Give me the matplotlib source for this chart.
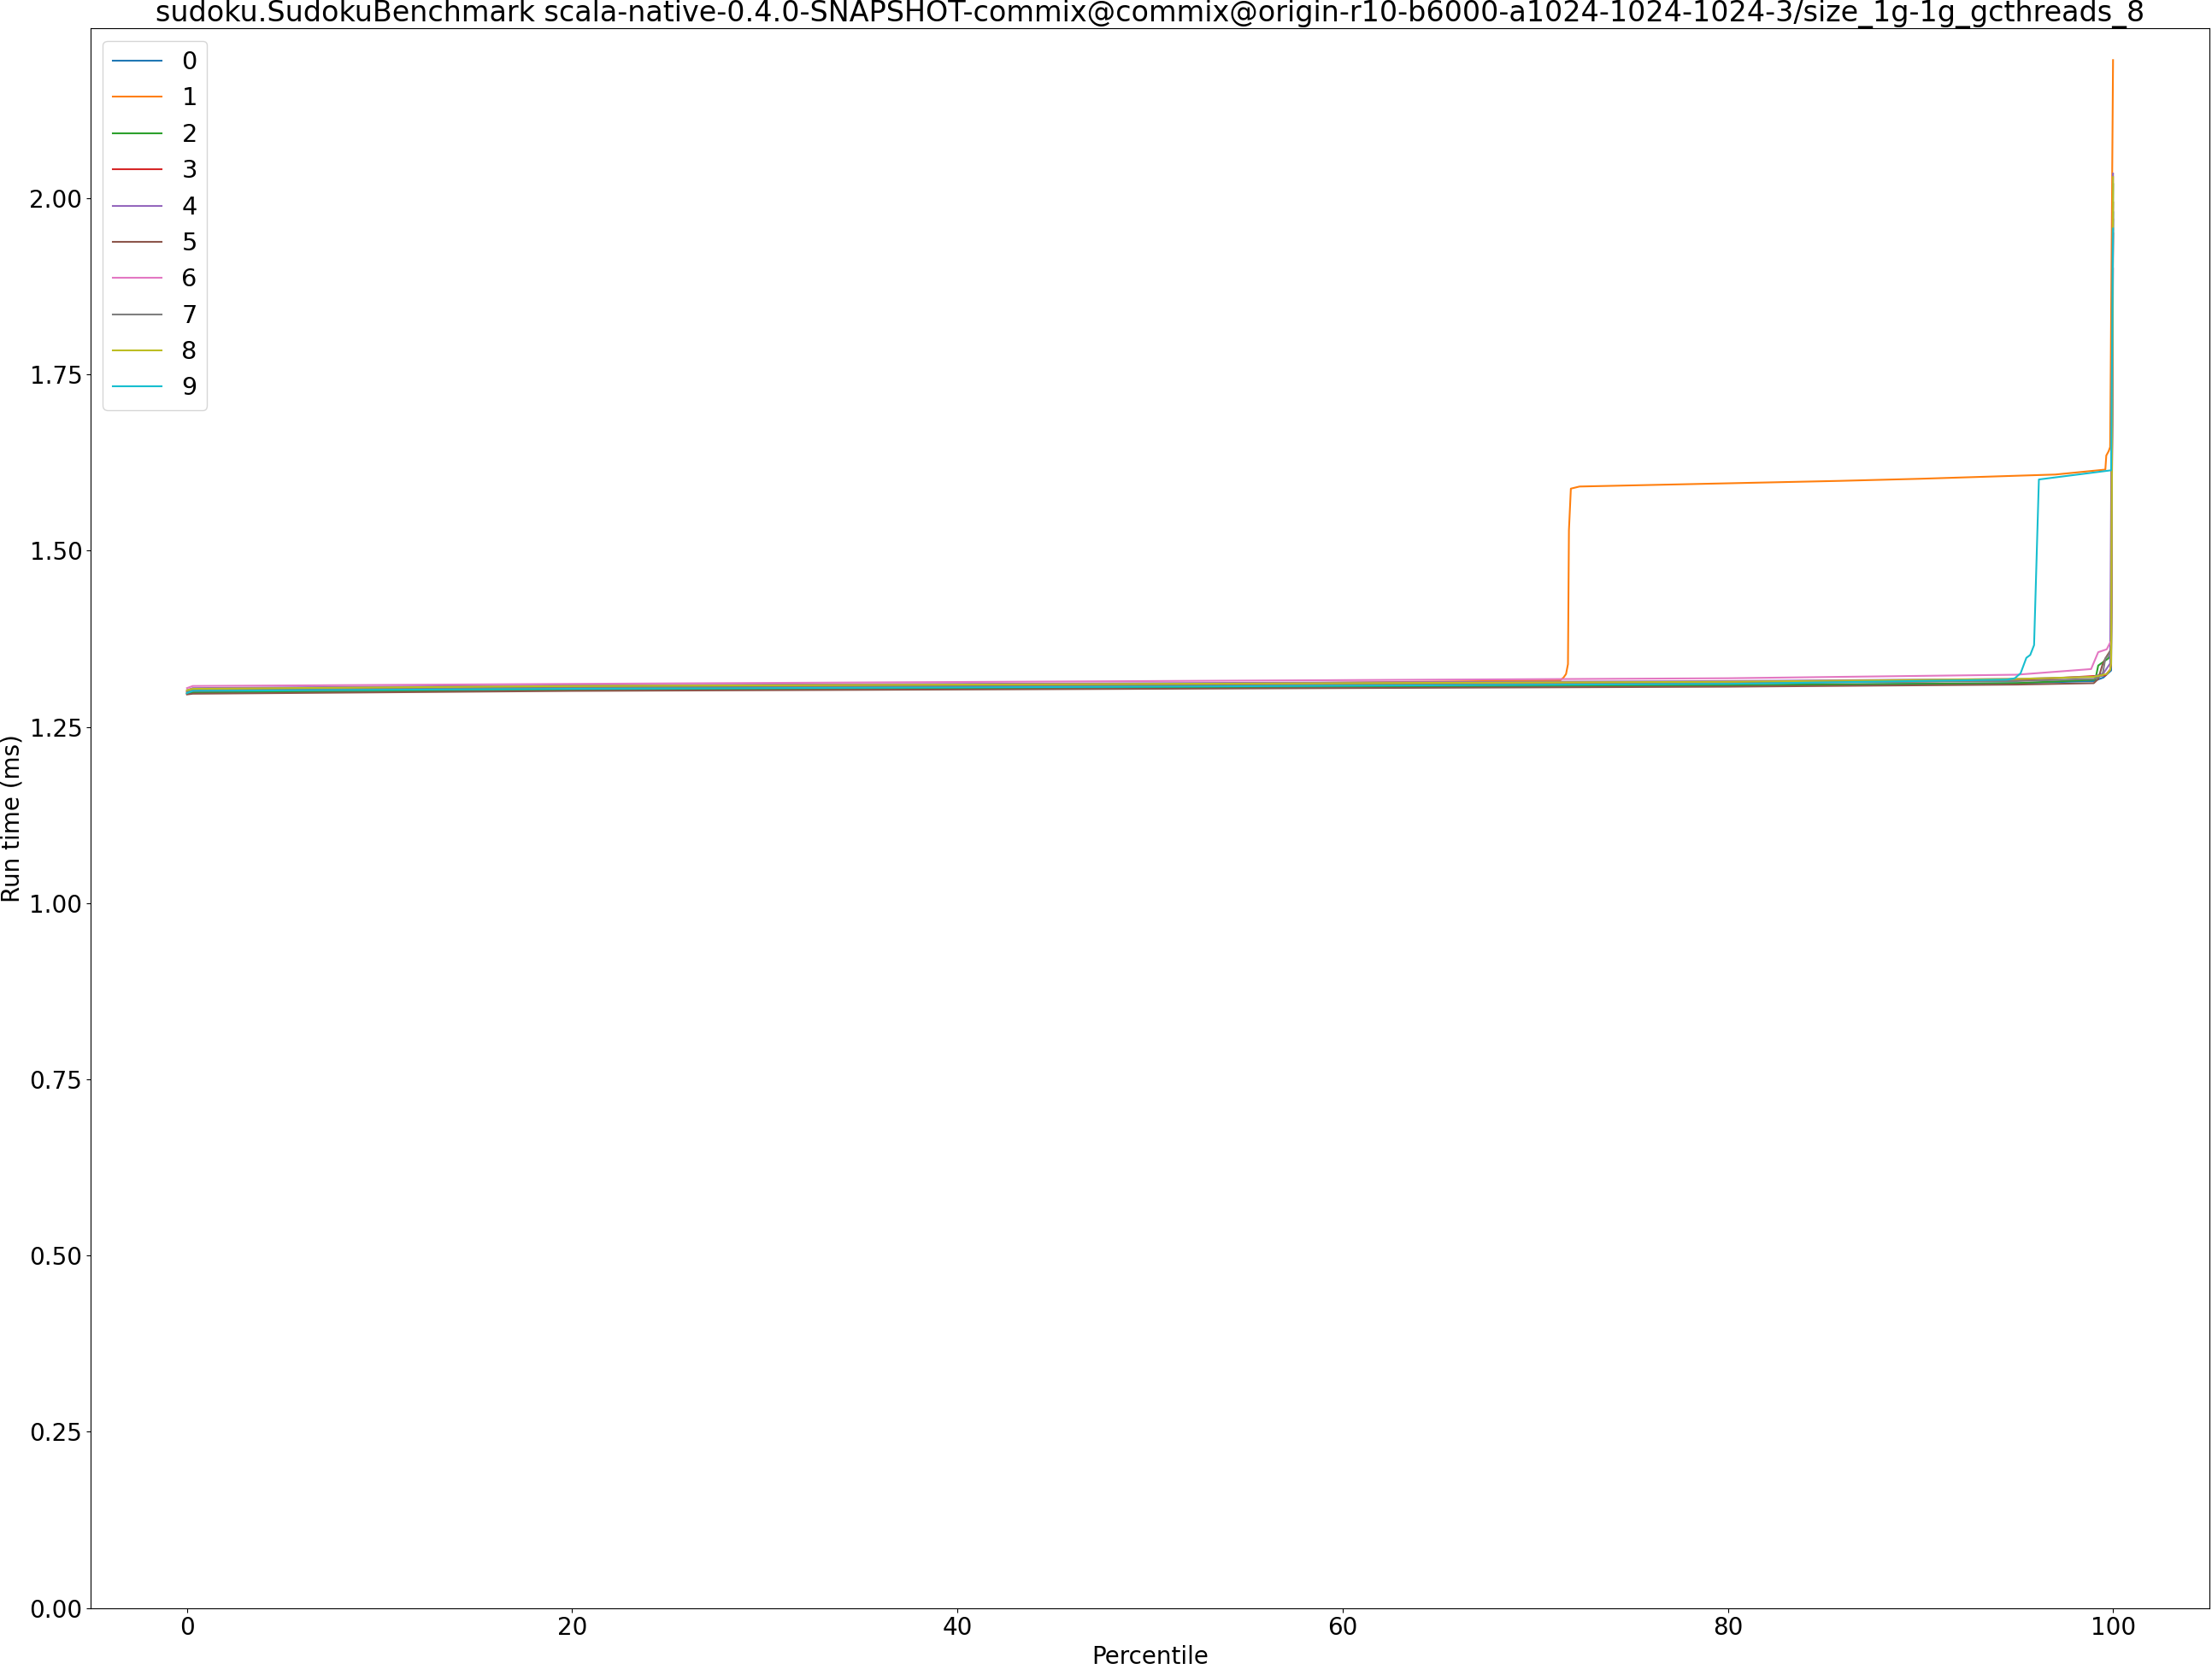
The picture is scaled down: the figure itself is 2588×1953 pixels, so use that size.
import matplotlib
matplotlib.use('Agg')
import matplotlib.pyplot as plt

# percentile / run time (ms) per run
pct_0 = [0, 0.3, 20, 50, 80, 95, 99.0, 99.5, 99.9, 100]
val_0 = [1.297, 1.299, 1.303, 1.306, 1.309, 1.312, 1.315, 1.320, 1.330, 1.980]

pct_1 = [0, 0.3, 20, 50, 71.3, 71.47, 71.6, 71.7, 71.75, 71.85, 72.3, 85.8, 90, 97, 99.6, 99.65, 99.77, 99.85, 100]
val_1 = [1.300, 1.302, 1.306, 1.310, 1.316, 1.320, 1.325, 1.339, 1.529, 1.588, 1.591, 1.599, 1.602, 1.608, 1.615, 1.635, 1.641, 1.647, 2.196]

pct_2 = [0, 0.3, 20, 50, 80, 95, 99.08, 99.23, 99.75, 99.9, 100]
val_2 = [1.297, 1.299, 1.303, 1.306, 1.309, 1.312, 1.317, 1.337, 1.347, 1.352, 2.020]

pct_3 = [0, 0.3, 20, 50, 80, 95, 99.6, 99.85, 99.9, 100]
val_3 = [1.299, 1.301, 1.305, 1.308, 1.312, 1.316, 1.323, 1.331, 1.340, 1.950]

pct_4 = [0, 0.3, 20, 50, 80, 95, 99.0, 99.5, 99.85, 100]
val_4 = [1.302, 1.305, 1.309, 1.312, 1.315, 1.318, 1.321, 1.326, 1.340, 2.035]

pct_5 = [0, 0.3, 20, 50, 80, 95, 99.0, 99.23, 99.45, 99.6, 99.9, 100]
val_5 = [1.296, 1.297, 1.301, 1.304, 1.307, 1.310, 1.312, 1.318, 1.338, 1.347, 1.360, 1.994]

pct_6 = [0, 0.3, 20, 50, 80, 95, 98.86, 99.23, 99.67, 99.82, 99.9, 100]
val_6 = [1.305, 1.308, 1.311, 1.315, 1.319, 1.324, 1.332, 1.356, 1.360, 1.368, 1.372, 1.900]

pct_7 = [0, 0.3, 20, 50, 80, 95, 99.0, 99.45, 99.6, 99.75, 99.9, 100]
val_7 = [1.300, 1.302, 1.306, 1.309, 1.312, 1.315, 1.318, 1.323, 1.347, 1.351, 1.360, 1.970]

pct_8 = [0, 0.3, 20, 50, 80, 95, 99.0, 99.67, 99.85, 99.9, 100]
val_8 = [1.302, 1.304, 1.308, 1.311, 1.314, 1.318, 1.321, 1.325, 1.331, 1.340, 2.030]

pct_9 = [0, 0.3, 20, 50, 80, 94.5, 94.9, 95.2, 95.5, 95.7, 95.9, 96.15, 99.9, 100]
val_9 = [1.298, 1.301, 1.304, 1.307, 1.311, 1.317, 1.319, 1.326, 1.348, 1.352, 1.366, 1.601, 1.614, 1.957]

runs = [(pct_0, val_0), (pct_1, val_1), (pct_2, val_2), (pct_3, val_3), (pct_4, val_4),
        (pct_5, val_5), (pct_6, val_6), (pct_7, val_7), (pct_8, val_8), (pct_9, val_9)]

title = ("sudoku.SudokuBenchmark scala-native-0.4.0-SNAPSHOT-commix@commix@"
         "origin-r10-b6000-a1024-1024-1024-3/size_1g-1g_gcthreads_8")

plt.rcParams['font.size'] = 20

fig, ax = plt.subplots(figsize=(25.88, 19.53), dpi=100)
fig.subplots_adjust(left=0.041, right=0.9988, top=0.983, bottom=0.0366)

for i, (x, y) in enumerate(runs):
    ax.plot(x, y, label=str(i))

ax.set_ylim(bottom=0)
ax.set_title(title, fontsize=24)
ax.set_xlabel('Percentile')
ax.set_ylabel('Run time (ms)')
ax.legend(loc='upper left', fontsize=20.7)

fig.savefig('out.png', dpi=100)
